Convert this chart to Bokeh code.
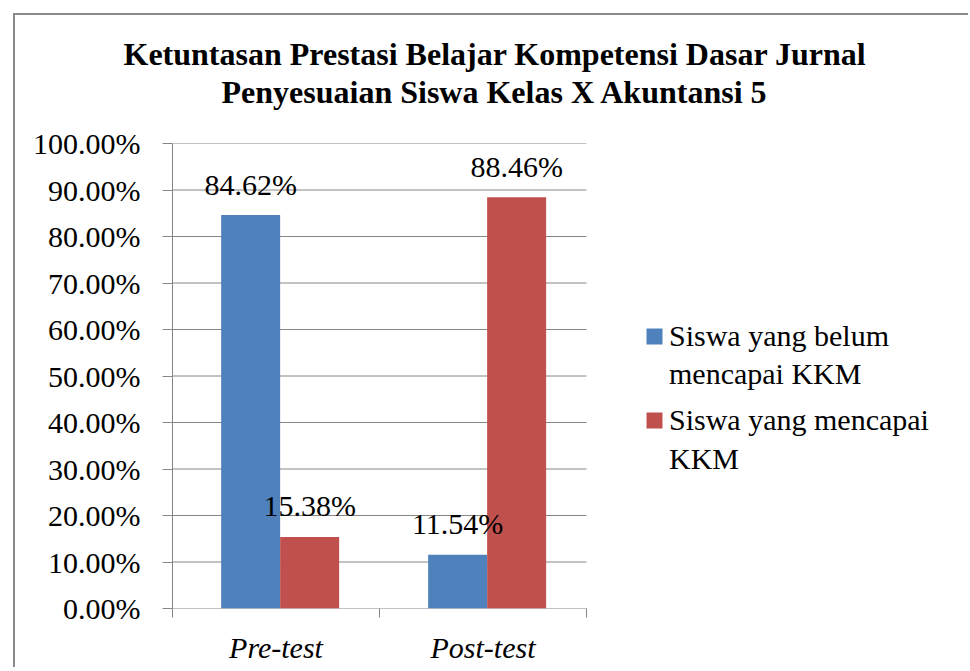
from bokeh.plotting import figure
from bokeh.models import (Range1d, FixedTicker, NumeralTickFormatter, ColumnDataSource,
                          Legend, LegendItem, Title)
from bokeh.core.properties import value
from bokeh.embed import file_html
from bokeh.resources import INLINE

categories = ["Pre-test", "Post-test"]
belum = [0.8462, 0.1154]
mencapai = [0.1538, 0.8846]
series_names = [["Siswa yang belum", "mencapai KKM"], ["Siswa yang mencapai", "KKM"]]
y_ticks = [i / 10 for i in range(11)]
title_lines = ["Ketuntasan Prestasi Belajar Kompetensi Dasar Jurnal",
               "Penyesuaian Siswa Kelas X Akuntansi 5"]

BLUE = "#4F81BD"
RED = "#C0504D"
GRID = "#868686"
FONT = "Liberation Serif"
FS = "30px"

W, H = 955, 654
LEFT, TOP, BOTTOM = 157, 128, 61
PLOT_W = 414          # pixel width of the category area
frame_w = W - LEFT
n = len(categories)

centers = [i + 0.5 for i in range(n)]
bw = 0.285
x_blue = [c + 0.02 - bw / 2 for c in centers]
x_red = [c + 0.02 + bw / 2 for c in centers]

p = figure(width=W, height=H, output_backend="svg", toolbar_location=None,
           x_range=Range1d(0, n * frame_w / PLOT_W), y_range=Range1d(0, 1),
           min_border_left=LEFT, min_border_right=0, min_border_top=TOP, min_border_bottom=BOTTOM)
p.margin = (13, 0, 0, 13)
p.styles = {"overflow": "hidden",
            "border-top": "2px solid #8a8a8a", "border-left": "2px solid #8a8a8a"}
p.outline_line_color = None
p.background_fill_color = "white"
p.border_fill_color = "white"

# title lines (closest to the frame first)
p.add_layout(Title(text=" ", text_font_size="1px", standoff=31), "above")
p.add_layout(Title(text=title_lines[1], align="left", offset=49, text_font=FONT,
                   text_font_size="32px", text_font_style="bold", text_color="black",
                   standoff=0), "above")
p.add_layout(Title(text=title_lines[0], align="left", offset=-49, text_font=FONT,
                   text_font_size="32px", text_font_style="bold", text_color="black",
                   standoff=0), "above")

# gridlines limited to the category area
p.segment(x0=0, x1=n, y0=y_ticks, y1=y_ticks, line_color=GRID, line_width=1)

src_b = ColumnDataSource(dict(x=x_blue, top=belum, lab=[f"{v*100:.2f}%" for v in belum]))
src_r = ColumnDataSource(dict(x=x_red, top=mencapai, lab=[f"{v*100:.2f}%" for v in mencapai]))
rb = p.vbar(x="x", top="top", width=bw, source=src_b, fill_color=BLUE, line_color=None)
rr = p.vbar(x="x", top="top", width=bw, source=src_r, fill_color=RED, line_color=None)
# invisible renderer used for the continuation lines of the legend labels
blank = p.vbar(x=[], top=[], width=bw, fill_alpha=0, line_alpha=0)

for src in (src_b, src_r):
    p.text(x="x", y="top", text="lab", source=src, text_font=value(FONT), text_font_size=FS,
           text_align="center", text_baseline="alphabetic", y_offset=-31, text_color="black")

p.xgrid.visible = False
p.ygrid.visible = False

ya = p.yaxis[0]
ya.ticker = FixedTicker(ticks=y_ticks)
ya.formatter = NumeralTickFormatter(format="0.00%")
ya.axis_line_color = GRID
ya.major_tick_line_color = GRID
ya.major_tick_out = 10
ya.major_tick_in = 0
ya.minor_tick_line_color = None
ya.major_label_standoff = 22
ya.major_label_text_font = FONT
ya.major_label_text_font_size = FS
ya.major_label_text_color = "black"

xa = p.xaxis[0]
xa.ticker = FixedTicker(ticks=centers, minor_ticks=list(range(n + 1)))
xa.major_label_overrides = {c: name for c, name in zip(centers, categories)}
xa.axis_line_color = None
xa.major_tick_line_color = None
xa.major_tick_out = 0
xa.major_tick_in = 0
xa.minor_tick_line_color = GRID
xa.minor_tick_out = 9
xa.minor_tick_in = 0
xa.major_label_standoff = 13
xa.major_label_text_font = FONT
xa.major_label_text_font_size = FS
xa.major_label_text_font_style = "italic"
xa.major_label_text_color = "black"

for (first, second), rend, loc_y, gap in zip(series_names, (rb, rr), (217, 132), (4, 5)):
    lg = Legend(items=[LegendItem(label=first, renderers=[rend]),
                       LegendItem(label=second, renderers=[blank])],
                location=(472, loc_y), orientation="vertical",
                label_text_font=FONT, label_text_font_size=FS, label_text_color="black",
                glyph_width=20, glyph_height=20, label_standoff=5, spacing=gap,
                padding=0, margin=0, border_line_color=None, background_fill_alpha=0)
    p.add_layout(lg, "center")

open("out.html", "w").write(file_html(p, INLINE))
